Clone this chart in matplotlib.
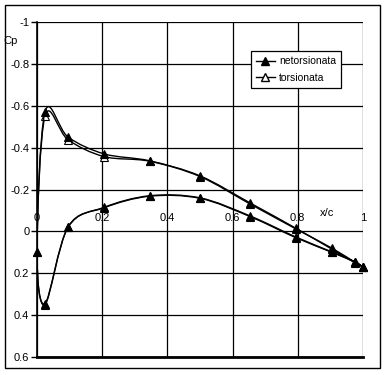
import matplotlib
matplotlib.use("Agg")
import matplotlib.pyplot as plt
from matplotlib.path import Path
from matplotlib.patches import PathPatch, Rectangle
from matplotlib.lines import Line2D
from matplotlib.transforms import offset_copy

plt.rcParams['font.family'] = ['Liberation Sans', 'DejaVu Sans']
plt.rcParams['font.size'] = 8
plt.rcParams['axes.unicode_minus'] = False

# chord stations: upper surface from trailing edge to leading edge, then lower surface back
x_c = [1.0, 0.9755, 0.9045, 0.7939, 0.6545, 0.5, 0.3455, 0.2061, 0.0955, 0.0245, 0.0,
       0.0245, 0.0955, 0.2061, 0.3455, 0.5, 0.6545, 0.7939, 0.9045, 0.9755, 1.0]

cp_netorsionata = [0.17, 0.15, 0.085, -0.015, -0.135, -0.265, -0.337, -0.37, -0.45, -0.57, 0.10,
                   0.345, -0.02, -0.115, -0.17, -0.16, -0.073, 0.027, 0.098, 0.145, 0.17]
cp_torsionata = [0.17, 0.148, 0.08, -0.012, -0.13, -0.262, -0.335, -0.357, -0.437, -0.55, 0.10,
                 0.35, -0.022, -0.113, -0.168, -0.158, -0.07, 0.03, 0.1, 0.147, 0.17]

x_ticks = [0, 0.2, 0.4, 0.6, 0.8, 1]
x_labels = ['0', '0.2', '0.4', '0.6', '0.8', '1']
y_ticks = [-1, -0.8, -0.6, -0.4, -0.2, 0, 0.2, 0.4, 0.6]
y_labels = ['-1', '-0.8', '-0.6', '-0.4', '-0.2', '0', '0.2', '0.4', '0.6']


def smooth_path(xs, ys):
    # Excel-like smoothed line: cubic Bezier segments with Catmull-Rom control points
    pts = list(zip(xs, ys))
    verts = [pts[0]]
    codes = [Path.MOVETO]
    n = len(pts)
    for i in range(n - 1):
        p0 = pts[max(i - 1, 0)]
        p1 = pts[i]
        p2 = pts[i + 1]
        p3 = pts[min(i + 2, n - 1)]
        c1 = (p1[0] + (p2[0] - p0[0]) / 6, p1[1] + (p2[1] - p0[1]) / 6)
        c2 = (p2[0] - (p3[0] - p1[0]) / 6, p2[1] - (p3[1] - p1[1]) / 6)
        verts += [c1, c2, p2]
        codes += [Path.CURVE4] * 3
    return Path(verts, codes)


fig = plt.figure(figsize=(3.85, 3.75), dpi=100)
fig.patches.append(Rectangle((5 / 385, 1 - 368 / 375), 375 / 385, 363 / 375,
                             transform=fig.transFigure, fill=False, ec='black', lw=1))
ax = fig.add_axes([37 / 385, 1 - 357 / 375, 326 / 385, 335 / 375])

ax.set_xlim(0, 1)
ax.set_ylim(0.6, -1)

# open markers first so the filled ones stay on top where they overlap
for cp, face, z in [(cp_torsionata, 'white', 3), (cp_netorsionata, 'black', 5)]:
    ax.add_patch(PathPatch(smooth_path(x_c, cp), fill=False, ec='black', lw=1.0, zorder=z))
    ax.plot(x_c, cp, ls='none', marker='^', ms=6, mfc=face, mec='black', mew=0.8,
            zorder=z + 1, clip_on=False)

ax.set_yticks(y_ticks, labels=y_labels)
ax.tick_params(axis='y', direction='out', length=4, width=1, pad=1.5, color='black')

# x tick labels sit just above the Cp = 0 line
ax.xaxis.set_ticks_position('top')
ax.spines['top'].set_position(('data', 0))
ax.spines['top'].set_visible(False)
ax.set_xticks(x_ticks, labels=x_labels)
ax.tick_params(axis='x', length=0, pad=6)

ax.grid(True, color='black', lw=0.9)
ax.set_axisbelow(True)
ax.spines['right'].set_visible(False)
ax.spines['left'].set_linewidth(1.2)
ax.spines['bottom'].set_linewidth(2)

trans = offset_copy(ax.transData, fig=fig, x=0, y=13, units='dots')
ax.text(0.89, 0, 'x/c', transform=trans, ha='center', va='bottom')
fig.text(11 / 385, 1 - 41 / 375, 'Cp', ha='center', va='center')

handles = [Line2D([], [], color='black', lw=1.0, marker='^', ms=6, mfc='black', mec='black'),
           Line2D([], [], color='black', lw=1.0, marker='^', ms=6, mfc='white', mec='black')]
leg = ax.legend(handles, ['netorsionata', 'torsionata'], loc='upper left',
                bbox_to_anchor=(0.656, 0.913), borderaxespad=0, fancybox=False,
                framealpha=1, edgecolor='black', handlelength=1.8, handletextpad=0.4,
                borderpad=0.5, labelspacing=0.6, fontsize=7.5)
leg.get_frame().set_linewidth(0.9)
leg.set_zorder(10)

fig.savefig('out.png', dpi=100, facecolor='white')
